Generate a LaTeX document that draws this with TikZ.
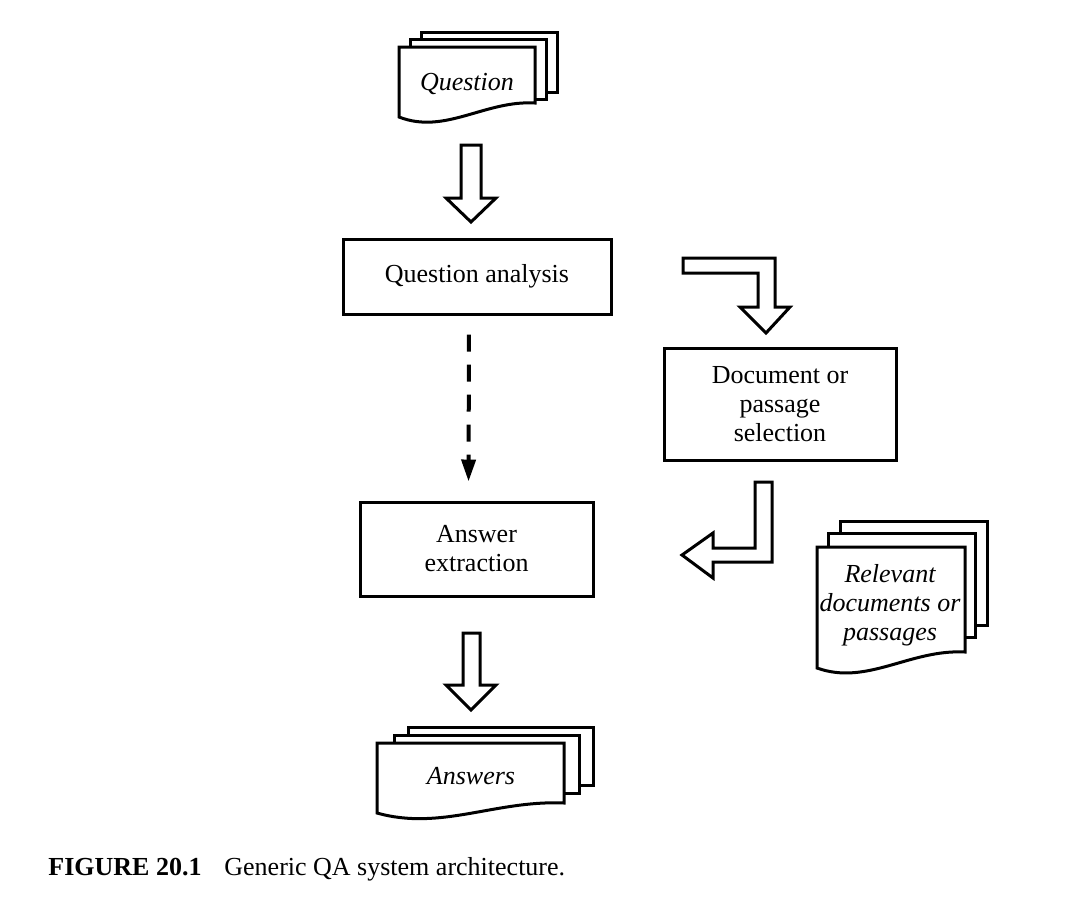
\documentclass[tikz,border=0pt]{standalone}
\usepackage{fontspec}
\setmainfont{Liberation Serif}
\usepackage{tikz}
\usetikzlibrary{arrows.meta, positioning, calc}

\begin{document}
\begin{tikzpicture}[x=0.5pt, y=-0.5pt,
        every node/.style={font=\fontsize{13}{14.5}\selectfont},
        box/.style={draw, line width=1.5pt, align=center, inner sep=0pt},
        page/.style={draw, fill=white, line width=1.5pt, line join=miter},
        blockarrow/.style={draw, fill=white, line width=1.5pt, line join=miter}]
        \useasboundingbox (0,0) rectangle (1077,896);

        % Question pages
        \foreach \x/\y in {421/32, 410/39} {
                \draw[page] (\x,\y) rectangle ++(136,60);
            }
        \draw[page] (399,47) -- (535,47) -- (535,103) .. controls (485,100) and (445,135) .. (399,117) -- cycle;
        \node (q) at (467,84) {\itshape Question};

        \draw[blockarrow] (461,145) -- (481,145) -- (481,198) -- (496,198) -- (471,222) -- (446,198) -- (461,198) -- cycle;

        % Boxes
        \node[box, minimum width=134pt, minimum height=37.5pt] (qa) at (477,276.5) {Question analysis};
        \node[box, minimum width=116pt, minimum height=56pt] (ds) at (780,404) {Document or\\passage\\selection};
        \node[box, minimum width=116.5pt, minimum height=47pt] (ae) at (476.5,549) {Answer\\extraction};

        \draw[line width=2pt, dash pattern=on 8.5pt off 6.5pt, -{Triangle[length=11pt, width=7pt]},
            shorten <=9.5pt, shorten >=9.5pt] ([xshift=-4pt]qa.south) -- ([xshift=-4pt]ae.north);

        % Bent arrows
        \draw[blockarrow] (683,258) -- (775,258) -- (775,307) -- (790,307) -- (766,333) -- (740,307) -- (758,307) -- (758,273) -- (683,273) -- cycle;
        \draw[blockarrow] (755,482) -- (772,482) -- (772,562) -- (713,562) -- (713,578) -- (682,555) -- (713,533) -- (713,548) -- (755,548) -- cycle;

        % Relevant pages
        \foreach \x/\y in {840/521, 828/533} {
                \draw[page] (\x,\y) rectangle ++(147,104);
            }
        \draw[page] (817,547) -- (965,547) -- (965,652) .. controls (910,649) and (867,686) .. (817,668) -- cycle;
        \node[align=center] (rd) at (890,605) {\itshape Relevant\\\itshape documents or\\\itshape passages};

        \draw[blockarrow] (463,633) -- (480,633) -- (480,685) -- (496,685) -- (471,710) -- (446,685) -- (463,685) -- cycle;

        % Answers pages
        \foreach \x/\y in {408/727, 394/735} {
                \draw[page] (\x,\y) rectangle ++(185,58);
            }
        \draw[page] (377,743) -- (564,743) -- (564,803) .. controls (495,800) and (441,831) .. (377,813) -- cycle;
        \node (ans) at (471,776) {\itshape Answers};

        % Caption
        \node[anchor=base west, inner sep=0pt] (fig) at (48,875) {\bfseries FIGURE 20.1};
        \node[anchor=base west, inner sep=0pt] (cap) at (224,875) {Generic QA system architecture.};
    \end{tikzpicture}
\end{document}
